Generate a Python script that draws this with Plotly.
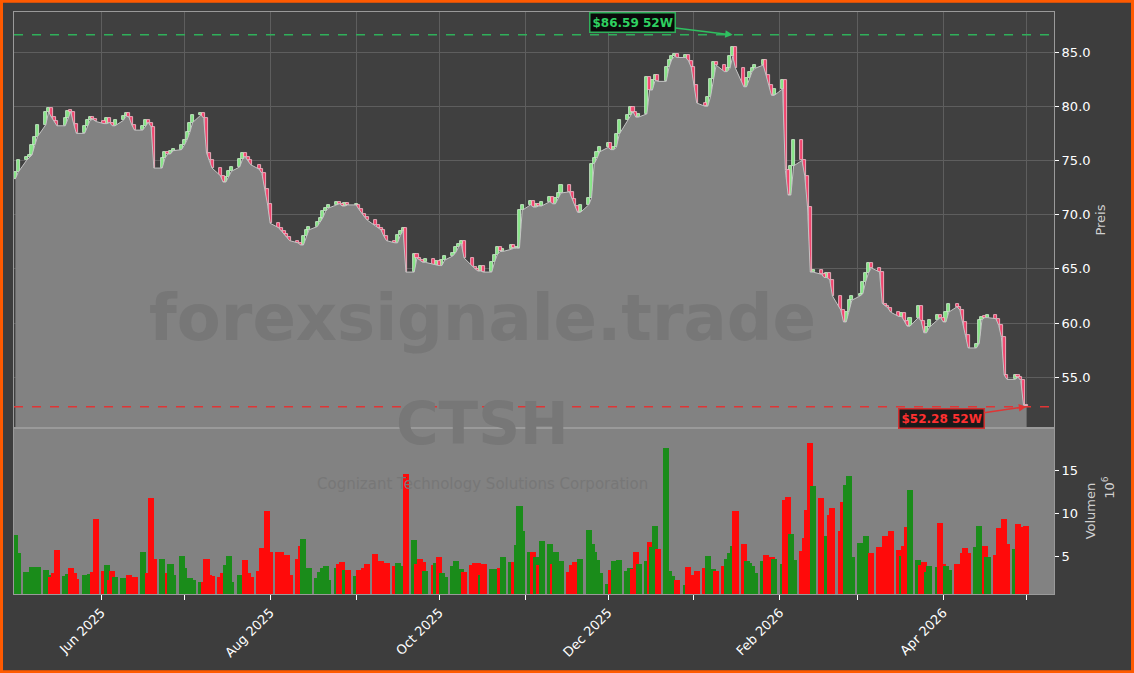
import pandas as pd
import plotly.graph_objects as go
from plotly.subplots import make_subplots

ticker = "CTSH"
company = "Cognizant Technology Solutions Corporation"
watermark = "forexsignale.trade"
high_52w = 86.59
low_52w = 52.28

closes = [
 73.9,75.0,75.3,75.5,76.4,77.2,78.3,79.5,79.8,79.0,
 78.6,78.2,78.9,79.6,79.5,78.4,77.5,78.2,78.7,79.0,
 78.8,78.6,78.4,78.9,78.5,78.2,78.7,79.1,79.4,79.0,
 78.3,77.8,78.2,78.7,78.5,78.1,74.3,75.2,75.8,75.6,
 75.9,76.0,76.4,76.9,77.6,78.5,79.2,79.4,78.9,75.7,
 75.0,74.3,73.6,73.0,73.5,74.0,74.4,75.1,75.7,75.3,
 75.0,74.6,74.2,73.8,72.4,71.0,69.2,68.8,68.5,68.2,
 67.9,67.6,67.4,67.2,68.0,68.6,68.9,69.3,69.7,70.3,
 70.6,70.9,71.2,71.0,70.8,71.1,70.9,70.9,70.5,70.1,
 69.8,69.5,69.0,68.8,68.6,68.0,67.6,67.4,68.1,68.5,
 68.8,64.7,66.4,66.0,65.8,65.6,65.9,65.4,65.7,65.3,
 65.8,66.2,66.5,67.0,67.3,67.6,66.0,65.2,65.0,64.8,
 65.3,64.7,65.6,66.3,67.0,66.6,66.8,67.2,66.9,66.9,
 70.4,70.9,71.3,70.7,71.0,70.8,71.2,71.6,71.0,71.5,
 72.0,72.7,72.1,71.4,70.8,70.2,70.9,71.5,74.7,75.2,
 75.8,76.2,76.6,76.0,76.2,77.4,78.7,79.2,79.9,79.5,
 79.0,79.3,82.7,81.5,82.4,82.9,82.3,83.6,84.3,84.6,
 84.8,84.5,84.7,84.2,83.6,82.0,80.3,80.0,80.9,82.5,
 84.1,83.8,83.2,83.5,84.6,85.5,83.5,81.8,82.6,83.2,
 83.5,83.8,84.3,82.9,82.0,81.0,81.6,82.4,74.1,71.8,
 74.5,76.9,75.0,73.6,70.7,64.7,64.9,64.5,64.2,64.6,
 64.0,62.5,61.2,60.1,61.0,62.1,62.5,62.7,63.8,64.6,
 65.5,65.1,64.7,61.8,61.6,61.4,61.0,60.6,60.9,60.2,
 59.7,60.5,61.6,60.2,59.1,59.6,60.3,60.7,60.5,60.1,
 61.0,61.8,61.5,61.2,60.1,58.9,57.7,58.1,60.3,60.6,
 60.5,60.7,60.4,59.8,58.7,55.2,54.8,55.2,55.0,54.7,
 52.4,52.3]

volumes = [
 7.4,5.4,3.1,2.6,3.7,2.9,3.7,3.4,2.8,2.6,3.0,5.7,2.7,2.9,3.6,3.0,2.3,2.8,2.6,2.9,
 3.2,9.3,3.3,4.0,2.2,3.3,2.6,2.4,1.9,2.8,2.0,2.6,5.5,2.9,3.0,11.8,4.7,4.6,2.3,3.0,
 4.1,2.8,5.0,3.6,1.9,2.4,2.2,2.0,2.0,4.7,2.8,2.7,2.6,3.0,4.0,5.0,2.0,2.8,2.6,4.5,
 3.0,2.6,3.3,5.9,5.4,10.2,5.5,5.5,5.5,4.9,5.1,2.8,4.6,6.2,7.0,2.9,3.6,2.4,3.1,3.6,
 3.8,2.2,3.6,4.1,4.3,3.4,3.4,2.7,3.4,3.3,3.6,4.1,5.2,3.6,4.4,4.2,4.2,3.9,4.2,3.9,
 3.6,14.6,6.9,4.1,4.7,4.3,3.3,4.0,4.2,4.9,3.0,2.6,3.9,4.4,3.1,3.5,3.2,4.0,4.2,4.2,
 2.8,4.1,3.5,2.4,3.5,3.6,4.9,4.3,4.3,6.3,10.8,7.9,5.5,5.5,4.9,4.0,6.7,6.4,4.1,5.5,
 4.2,
 4.4,3.1,4.0,4.3,3.9,4.7,8.0,6.4,5.5,4.5,3.0,1.7,3.4,4.4,3.9,4.5,3.3,3.6,3.5,5.5,
 4.1,4.4,6.6,6.0,8.5,5.8,17.6,3.3,2.7,1.7,2.2,1.6,3.7,2.8,2.6,3.3,3.6,5.0,3.0,3.5,
 3.3,3.9,4.6,5.3,6.2,10.3,6.4,4.4,4.2,3.9,3.0,4.4,5.1,4.1,4.9,4.6,4.1,11.5,11.9,7.6,
 4.5,5.6,7.1,10.4,18.2,13.1,11.8,6.2,7.3,9.8,10.6,7.9,11.3,13.3,14.3,4.9,6.5,6.4,7.3,4.7,
 5.3,6.0,5.6,7.3,5.8,7.9,5.7,5.0,6.2,8.4,12.7,4.5,4.0,4.3,3.1,3.8,3.7,8.8,4.1,3.9,
 3.4,4.1,3.6,5.3,5.9,5.4,6.0,8.5,4.9,6.2,4.9,5.1,8.3,5.5,9.3,6.4,5.8,8.7,8.3,8.4,
 8.5]

n = min(len(closes), len(volumes))
closes = closes[:n]
volumes = volumes[:n]
dates = pd.bdate_range("2025-05-01", periods=n)
opens = [closes[0] - 0.6] + closes[:-1]
lows = [min(o, c) for o, c in zip(opens, closes)]
up = [c >= o for o, c in zip(opens, closes)]
vol_colors = ["#1a8c1a" if u else "#ff0a0a" for u in up]

DAY = 86400000

fig = make_subplots(rows=2, cols=1, shared_xaxes=True, vertical_spacing=0,
                    row_heights=[0.715, 0.285])

fig.add_trace(go.Scatter(x=dates, y=lows, mode="lines", fill="tozeroy",
                         line=dict(color="#c4c4c4", width=1), fillcolor="#828282",
                         hoverinfo="skip", showlegend=False), row=1, col=1)

for flag, fill, edge in ((True, "#86e486", "#d0f0d0"), (False, "#f0456e", "#f6c4d0")):
    xs = [d for d, u in zip(dates, up) if u == flag]
    base = [min(o, c) for o, c, u in zip(opens, closes, up) if u == flag]
    h = [max(abs(c - o), 0.12) for o, c, u in zip(opens, closes, up) if u == flag]
    fig.add_trace(go.Bar(x=xs, y=h, base=base, width=DAY * 1.1,
                         marker=dict(color=fill, line=dict(color=edge, width=0.8)),
                         showlegend=False, hoverinfo="skip"), row=1, col=1)

fig.add_trace(go.Bar(x=dates, y=volumes, marker=dict(color=vol_colors, line=dict(width=0)),
                     width=DAY * 2.2, showlegend=False), row=2, col=1)

xr = ["2025-04-30 12:00", "2026-05-11"]
months = pd.date_range("2025-06-01", "2026-05-01", freq="MS")
ticktext = [m.strftime("%b %Y") if m.month % 2 == 0 else "" for m in months]

for r in (1, 2):
    fig.update_xaxes(range=xr, tickvals=list(months), showline=True, linecolor="#9a9a9a",
                     mirror=True, row=r, col=1)
fig.update_xaxes(ticktext=[" "] * len(months), ticks="", showgrid=True, gridcolor="#5e5e5e",
                 row=1, col=1)
fig.update_xaxes(ticktext=ticktext, ticks="outside", tickcolor="#ffffff", ticklen=5,
                 showgrid=False, tickangle=-45, tickfont=dict(color="#ffffff", size=13),
                 row=2, col=1)

fig.update_yaxes(range=[50.3, 88.7], side="right", dtick=5, tickformat=".1f",
                 tick0=0, ticks="outside", tickcolor="#ffffff", ticklen=4,
                 tickfont=dict(color="#ffffff", size=13), gridcolor="#5e5e5e",
                 showline=True, linecolor="#9a9a9a", mirror=True,
                 title=dict(text="Preis", font=dict(color="#d0d0d0", size=13), standoff=6),
                 zeroline=False, row=1, col=1)
fig.update_yaxes(range=[0.6, 19.9], side="right", tickvals=[5, 10, 15],
                 ticks="outside", tickcolor="#ffffff", ticklen=4,
                 tickfont=dict(color="#ffffff", size=13), showgrid=False,
                 showline=True, linecolor="#9a9a9a", mirror=True,
                 title=dict(text="Volumen", font=dict(color="#d0d0d0", size=13), standoff=8),
                 zeroline=False, row=2, col=1)

fig.add_hline(y=high_52w, line=dict(color="#2fb05a", width=1.5, dash="dash"), row=1, col=1)
fig.add_hline(y=low_52w, line=dict(color="#e03535", width=1.5, dash="dash"), row=1, col=1)

hi_date = dates[closes.index(max(closes))]
lo_date = dates[-1]
fig.add_annotation(x=hi_date, y=high_52w, xref="x", yref="y", text="<b>$86.59 52W</b>",
                   showarrow=True, arrowhead=2, arrowcolor="#2fc060", arrowwidth=1.5,
                   ax=-100, ay=-12, font=dict(color="#2fd060", size=12),
                   bgcolor="#0a0a0a", bordercolor="#2fb05a", borderwidth=1.5, borderpad=2)
fig.add_annotation(x=lo_date, y=low_52w, xref="x", yref="y", text="<b>$52.28 52W</b>",
                   showarrow=True, arrowhead=2, arrowcolor="#e03535", arrowwidth=1.5,
                   ax=-85, ay=12, font=dict(color="#ff3030", size=12),
                   bgcolor="#1a1a1a", bordercolor="#d03030", borderwidth=1.5, borderpad=2)

fig.add_annotation(x=0.45, y=0.475, xref="paper", yref="paper", text=f"<b>{watermark}</b>",
                   showarrow=False, font=dict(size=64, color="#777777", family="DejaVu Sans"))
fig.add_annotation(x=0.45, y=0.23, xref="paper", yref="paper", text=f"<b>{ticker}</b>",
                   showarrow=False, font=dict(size=58, color="#777777", family="DejaVu Sans"))
fig.add_annotation(x=0.45, y=0.17, xref="paper", yref="paper", text=company,
                   showarrow=False, font=dict(size=15, color="#777777", family="DejaVu Sans"))
fig.add_annotation(x=1.062, y=0.16, xref="paper", yref="paper", text="10<sup>6</sup>",
                   textangle=-90, showarrow=False, font=dict(size=13, color="#d0d0d0"))

fig.add_shape(type="rect", xref="paper", yref="paper", x0=0, x1=1, y0=0, y1=0.285,
              fillcolor="#828282", line=dict(width=0), layer="below")
fig.add_shape(type="rect", xref="paper", yref="paper", x0=-0.0120, x1=1.0755,
              y0=-0.1335, y1=1.0185, line=dict(color="#ff5a00", width=3))

fig.update_layout(width=1134, height=673, paper_bgcolor="#3d3d3d", plot_bgcolor="#404040",
                  margin=dict(l=14, r=80, t=12, b=79, autoexpand=False),
                  font=dict(family="DejaVu Sans"), barmode="overlay",
                  bargap=0, showlegend=False)
fig.write_html("out.html", config={"displayModeBar": False},
               post_script="document.body.style.margin='0';document.body.style.background='#3d3d3d';")
